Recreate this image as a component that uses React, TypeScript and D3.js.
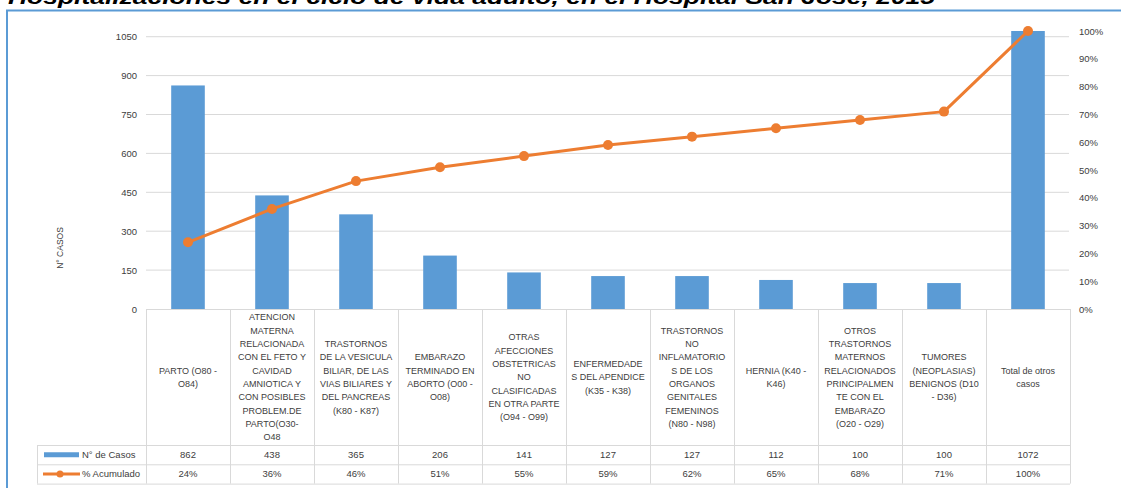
import * as d3 from "d3";

const title = "Hospitalizaciones en el ciclo de vida adulto, en el Hospital San José, 2015";

const categories = [
  ["PARTO (O80 -", "O84)"],
  ["ATENCION", "MATERNA", "RELACIONADA", "CON EL FETO Y", "CAVIDAD", "AMNIOTICA Y", "CON POSIBLES", "PROBLEM.DE", "PARTO(O30-", "O48"],
  ["TRASTORNOS", "DE LA VESICULA", "BILIAR, DE LAS", "VIAS BILIARES Y", "DEL PANCREAS", "(K80 - K87)"],
  ["EMBARAZO", "TERMINADO EN", "ABORTO (O00 -", "O08)"],
  ["OTRAS", "AFECCIONES", "OBSTETRICAS", "NO", "CLASIFICADAS", "EN OTRA PARTE", "(O94 - O99)"],
  ["ENFERMEDADE", "S DEL APENDICE", "(K35 - K38)"],
  ["TRASTORNOS", "NO", "INFLAMATORIO", "S DE LOS", "ORGANOS", "GENITALES", "FEMENINOS", "(N80 - N98)"],
  ["HERNIA (K40 -", "K46)"],
  ["OTROS", "TRASTORNOS", "MATERNOS", "RELACIONADOS", "PRINCIPALMEN", "TE CON EL", "EMBARAZO", "(O20 - O29)"],
  ["TUMORES", "(NEOPLASIAS)", "BENIGNOS (D10", "- D36)"],
  ["Total de otros", "casos"],
];

const casos = [862, 438, 365, 206, 141, 127, 127, 112, 100, 100, 1072];
const acumulado = [24, 36, 46, 51, 55, 59, 62, 65, 68, 71, 100];

const leftTicks = [0, 150, 300, 450, 600, 750, 900, 1050];
const rightTicks = [0, 10, 20, 30, 40, 50, 60, 70, 80, 90, 100];

const W = 1121;
const H = 488;
const BLUE = "#5B9BD5";
const ORANGE = "#ED7D31";
const GRID = "#d9d9d9";
const TEXT = "#404040";
const FONT = "'Liberation Sans', Arial, sans-serif";

export default function App() {
  const plot = { left: 146, right: 1070, top: 31, bottom: 309 };
  const rowH = 19.3;
  const headBottom = 445;

  const x = d3
    .scaleBand<number>()
    .domain(d3.range(categories.length))
    .range([plot.left, plot.right]);
  // left axis tops out at the total (1072), like the Excel Pareto
  const yL = d3.scaleLinear().domain([0, 1072]).range([plot.bottom, plot.top]);
  const yR = d3.scaleLinear().domain([0, 100]).range([plot.bottom, plot.top]);

  const barW = x.bandwidth() * 0.4;
  const cx = (i: number) => (x(i) as number) + x.bandwidth() / 2;

  const line = d3
    .line<number>()
    .x((_, i) => cx(i))
    .y((d) => yR(d));

  const rows = [headBottom, headBottom + rowH, headBottom + rowH * 2];
  const lineH = 13.3;

  return (
    <svg
      width={W}
      height={H}
      style={{ position: "absolute", left: 0, top: 0, background: "#fff" }}
      fontFamily={FONT}
    >
      {/* title cut off by the top edge */}
      <text
        x={8}
        y={3.5}
        fontSize={20}
        fontWeight="bold"
        fontStyle="italic"
        fill="#000"
        textLength={927}
        lengthAdjust="spacingAndGlyphs"
      >
        {title}
      </text>

      {/* chart frame */}
      <path d={`M7,${H + 2} V10.5 H${W + 2}`} fill="none" stroke={BLUE} strokeWidth={2} />

      {/* gridlines */}
      {leftTicks
        .filter((t) => t > 0)
        .map((t) => (
          <line key={t} x1={plot.left} x2={plot.right - 1} y1={yL(t)} y2={yL(t)} stroke={GRID} strokeWidth={1} />
        ))}

      {/* left axis labels */}
      {leftTicks.map((t) => (
        <text key={t} x={137} y={yL(t) + 3.5} fontSize={9.5} textAnchor="end" fill={TEXT}>
          {t}
        </text>
      ))}
      <text
        transform={`translate(63,248) rotate(-90)`}
        fontSize={8.5}
        textAnchor="middle"
        fill={TEXT}
      >
        N° CASOS
      </text>

      {/* right axis labels */}
      {rightTicks.map((t) => (
        <text key={t} x={1079} y={yR(t) + 3.5} fontSize={9.5} fill={TEXT}>
          {t}%
        </text>
      ))}

      {/* bars */}
      {casos.map((v, i) => (
        <rect key={i} x={cx(i) - barW / 2} y={yL(v)} width={barW} height={plot.bottom - yL(v)} fill={BLUE} />
      ))}

      {/* cumulative line */}
      <path d={line(acumulado) || ""} fill="none" stroke={ORANGE} strokeWidth={3} strokeLinejoin="round" />
      {acumulado.map((v, i) => (
        <circle key={i} cx={cx(i)} cy={yR(v)} r={5} fill={ORANGE} />
      ))}

      {/* data table */}
      <g stroke={GRID} strokeWidth={1} fill="none">
        <line x1={plot.left} x2={plot.right} y1={plot.bottom + 0.5} y2={plot.bottom + 0.5} />
        {rows.map((r, k) => (
          <line key={k} x1={37} x2={plot.right} y1={r + 0.5} y2={r + 0.5} />
        ))}
        <line x1={37.5} x2={37.5} y1={headBottom} y2={rows[2]} />
        {d3.range(categories.length + 1).map((i) => {
          const xx = i < categories.length ? (x(i) as number) : plot.right;
          return <line key={i} x1={xx + 0.5} x2={xx + 0.5} y1={plot.bottom} y2={rows[2]} />;
        })}
      </g>

      {/* category labels */}
      {categories.map((lines, i) => {
        const mid = (plot.bottom + headBottom) / 2;
        const start = mid - ((lines.length - 1) * lineH) / 2;
        return (
          <text key={i} fontSize={9} textAnchor="middle" fill={TEXT}>
            {lines.map((l, j) => (
              <tspan key={j} x={cx(i)} y={start + j * lineH + 3.3}>
                {l}
              </tspan>
            ))}
          </text>
        );
      })}

      {/* table values */}
      {casos.map((v, i) => (
        <text key={i} x={cx(i)} y={rows[0] + rowH / 2 + 3.5} fontSize={9.5} textAnchor="middle" fill={TEXT}>
          {v}
        </text>
      ))}
      {acumulado.map((v, i) => (
        <text key={i} x={cx(i)} y={rows[1] + rowH / 2 + 3.5} fontSize={9.5} textAnchor="middle" fill={TEXT}>
          {v}%
        </text>
      ))}

      {/* legend keys */}
      <line x1={44} x2={79} y1={rows[0] + rowH / 2} y2={rows[0] + rowH / 2} stroke={BLUE} strokeWidth={5} />
      <text x={82} y={rows[0] + rowH / 2 + 3.5} fontSize={9.5} fill={TEXT}>
        N° de Casos
      </text>
      <line x1={43} x2={80} y1={rows[1] + rowH / 2} y2={rows[1] + rowH / 2} stroke={ORANGE} strokeWidth={3} />
      <circle cx={60} cy={rows[1] + rowH / 2} r={3.5} fill={ORANGE} />
      <text x={82} y={rows[1] + rowH / 2 + 3.5} fontSize={9.5} fill={TEXT}>
        % Acumulado
      </text>
    </svg>
  );
}
